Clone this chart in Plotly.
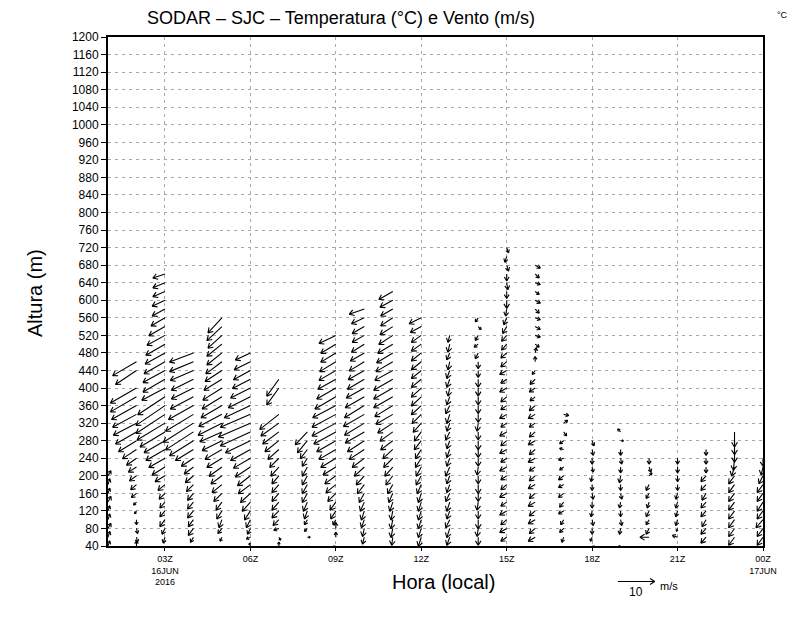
import math
import plotly.graph_objects as go

# ---------------- page / axes geometry ----------------
OFF = 8                     # the page body adds an 8 px margin around the figure
W, H = 800 - OFF, 618 - OFF
ML, MT = 108 - OFF, 37 - OFF
MR = W - (763 - OFF)
MB = H - (546 - OFF)
X0, X1 = 1, 24          # hours (1Z 16JUN .. 00Z 17JUN)
Y0, Y1 = 40, 1200       # altitude (m)
PW = W - ML - MR
PH = H - MT - MB
PX_PER_H = PW / (X1 - X0)
PX_PER_M = PH / (Y1 - Y0)
VSCALE = 3.67           # px per (m/s); reference vector = 10 m/s

# ---------------- data ----------------
level_start = 40
level_step = 20
hours = list(range(1, 25))

x_tickvals = [3, 6, 9, 12, 15, 18, 21, 24]
x_ticktext = ["03Z<br>16JUN<br>2016", "06Z", "09Z", "12Z", "15Z", "18Z", "21Z", "00Z<br>17JUN"]
y_tickvals = list(range(40, 1201, 40))

# wind components (m/s), from 40 m upward in 20 m steps; None = no data
u_01 = [0.5, 0.5, 0.8, 0.5, 0.5, 0.8, 0.5, 0.5, 0.8]
v_01 = [1.4, 1.6, 1.4, 1.6, 1.4, 1.6, 1.4, 1.6, 1.4]
u_02 = [0.0, 0.3, 0.3, 0.0, -0.5, -0.8, -1.4, -1.6, -1.9, -2.2, -2.7, -3.8, -4.9, -5.7, -6.3, -6.5, -6.8, -7.1, -7.1, None, -5.7, -6.5]
v_02 = [1.4, -1.4, -1.4, -1.4, -0.8, -0.8, -1.1, -1.4, -1.4, -1.4, -1.9, -2.5, -3.0, -3.3, -3.3, -3.5, -3.8, -4.1, -4.1, None, -3.8, -3.8]
u_03 = [-0.3, -0.5, -0.8, -1.4, -1.4, -1.4, -1.6, -1.9, -2.7, -3.5, -4.4, -5.2, -5.7, -6.8, -7.6, -7.9, -7.9, -7.4, -6.3, -6.0, -6.0, -5.7, -5.4, -5.2, -4.9, -4.4, -3.8, -3.5, -3.5, -3.3, -3.3, -3.3]
v_03 = [-1.1, -1.6, -1.6, -1.9, -1.6, -1.6, -1.6, -1.6, -1.6, -2.2, -2.5, -3.0, -3.3, -4.1, -4.6, -5.2, -5.4, -4.9, -3.3, -3.5, -3.3, -3.3, -3.0, -3.0, -2.7, -2.5, -2.2, -1.9, -1.6, -1.4, -1.4, -1.1]
u_04 = [-0.5, -0.8, -1.4, -1.4, -1.6, -1.6, -1.6, -1.9, -2.2, -2.5, -3.3, -4.9, -6.5, -7.6, -8.2, -7.6, -6.8, -6.3, -6.0, -6.0, -6.3, -6.5, -6.5]
v_04 = [-1.1, -1.4, -1.9, -1.9, -1.9, -1.9, -1.9, -1.9, -1.9, -1.9, -2.2, -3.0, -4.1, -4.9, -5.2, -4.6, -3.8, -3.3, -3.0, -3.0, -2.7, -2.7, -2.5]
u_05 = [-0.3, -0.5, -1.1, -0.8, -1.4, -1.6, -2.2, -2.7, -3.0, -3.5, -4.1, -4.6, -5.4, -6.0, -6.5, -6.3, -5.7, -5.4, -5.2, -4.9, -4.6, -4.4, -4.1, -4.1, -3.8, -4.1, -3.8]
v_05 = [-0.8, -1.1, -1.4, -2.2, -2.2, -2.2, -2.2, -2.2, -2.2, -2.5, -2.5, -2.7, -2.7, -2.7, -3.3, -3.3, -3.3, -3.3, -3.3, -3.0, -3.0, -3.3, -3.3, -3.3, -3.5, -3.8, -4.1]
u_06 = [-0.3, -1.1, -0.8, -1.1, -1.6, -2.2, -2.7, -3.3, -3.5, -4.1, -4.6, -5.4, -6.8, -8.2, -8.7, -8.2, -7.1, -6.0, -5.4, -4.9, -4.6, -4.4, -4.1]
v_06 = [0.8, -0.5, -1.6, -2.2, -2.5, -2.5, -2.5, -2.5, -2.7, -2.7, -2.7, -3.0, -3.3, -3.8, -3.8, -3.5, -3.3, -3.0, -2.7, -2.5, -2.5, -2.2, -1.9]
u_07 = [0.0, 0.5, -1.4, -1.6, -1.9, -1.9, -1.9, -1.9, -1.9, -2.2, -2.5, -3.0, -3.8, -4.4, -4.9, -5.2, None, None, -3.3, -3.3]
v_07 = [1.1, -0.8, -0.5, -1.6, -1.9, -2.2, -2.2, -2.2, -2.2, -2.5, -2.5, -2.7, -3.0, -3.3, -3.5, -4.1, None, None, -4.6, -4.6]
u_08 = [0.5, 0.8, -0.8, -0.8, -0.8, -1.1, -1.4, -1.4, -1.4, -1.4, -1.4, -1.9, -2.7, -3.3]
v_08 = [-0.5, 0.0, -0.8, -1.4, -2.2, -2.5, -2.5, -2.5, -2.5, -2.5, -2.2, -2.5, -3.3, -3.5]
u_09 = [-0.8, 0.0, 0.0, -0.8, -1.4, -1.6, -2.2, -2.7, -3.0, -3.5, -4.1, -4.6, -5.2, -6.0, -6.5, -6.5, -6.3, -5.7, -5.2, -4.9, -4.6, -4.4, -4.1, -4.1, -4.6]
v_09 = [-0.3, 1.4, 1.6, -1.4, -2.2, -2.2, -2.2, -2.2, -2.2, -2.2, -2.5, -2.7, -3.0, -3.3, -3.5, -3.5, -3.3, -3.3, -3.0, -2.7, -2.7, -2.7, -2.5, -2.5, -2.2]
u_10 = [-0.8, -0.5, -0.5, -0.8, -0.8, -1.1, -1.4, -1.9, -2.2, -2.7, -3.3, -4.1, -4.6, -5.2, -5.4, -5.7, -5.4, -5.2, -4.9, -4.6, -4.4, -4.1, -3.8, -3.5, -3.3, -3.3, -3.5, -4.1]
v_10 = [-0.5, -1.9, -2.2, -2.2, -2.5, -2.5, -2.5, -2.5, -2.5, -2.5, -2.5, -2.7, -3.0, -3.0, -3.3, -3.3, -3.3, -3.0, -2.7, -2.7, -2.5, -2.5, -2.2, -2.2, -1.9, -1.9, -1.6, -1.4]
u_11 = [-0.3, -0.3, -0.5, -0.5, -0.5, -0.8, -1.1, -1.4, -1.9, -2.2, -2.5, -2.7, -3.3, -3.5, -4.1, -4.6, -4.9, -5.2, -5.2, -5.2, -4.9, -4.6, -4.4, -4.1, -3.8, -3.5, -3.3, -3.3, -3.5, -3.8]
v_11 = [-1.9, -2.2, -2.5, -2.5, -2.5, -2.5, -2.5, -2.5, -2.5, -2.5, -2.5, -2.5, -2.5, -2.5, -2.7, -2.7, -3.0, -3.0, -3.0, -3.0, -2.7, -2.7, -2.7, -2.5, -2.5, -2.2, -2.2, -1.9, -1.9, -2.2]
u_12 = [-0.5, -0.8, -0.8, -0.8, -0.8, -0.8, -0.8, -1.1, -1.4, -1.4, -1.6, -1.6, -1.9, -1.9, -2.2, -2.5, -2.7, -2.7, -2.7, -2.7, -2.7, -2.7, -2.7, -2.7, -2.7, -3.0, -3.3]
v_12 = [-2.2, -2.5, -2.5, -2.5, -2.5, -2.5, -2.5, -2.5, -2.5, -2.5, -2.5, -2.5, -2.5, -2.5, -2.5, -2.5, -2.5, -2.5, -2.5, -2.2, -2.2, -2.2, -2.2, -1.9, -1.9, -1.6, -1.6]
u_13 = [-0.5, -0.8, -0.8, -1.1, -0.8, -0.8, -1.1, -0.8, -0.8, -1.1, -0.8, -0.8, -0.8, -1.1, -0.8, -0.8, -1.1, -0.8, -0.5, -0.8, -0.8, -0.5, -0.8, -0.5, -0.5]
v_13 = [-2.2, -2.2, -2.5, -2.2, -2.2, -2.5, -2.2, -2.2, -2.2, -2.5, -2.2, -2.2, -2.2, -2.2, -2.2, -2.5, -2.2, -2.2, -2.2, -2.2, -2.2, -2.2, -1.9, -2.2, -1.9]
u_14 = [0.0, 0.0, -0.3, 0.0, 0.0, -0.3, 0.0, 0.0, 0.0, -0.3, 0.0, 0.0, 0.0, 0.0, -0.3, 0.0, 0.0, 0.0, 0.0, 0.0, 0.0, 0.0, -0.8, -1.1, -0.8, 0.8, -0.8]
v_14 = [-2.5, -2.2, -2.2, -2.5, -2.2, -2.2, -2.2, -2.5, -2.2, -2.2, -2.2, -2.2, -2.5, -2.2, -2.2, -2.2, -2.2, -2.2, -2.2, -2.2, -1.9, -1.9, -1.6, -0.8, -1.4, -0.8, -1.1]
u_15 = [-1.4, -1.6, -1.9, -1.6, -1.9, -1.6, -1.9, -1.6, -1.6, -1.9, -1.6, -1.9, -1.6, -1.9, -1.6, -1.9, -1.6, -1.6, -1.9, -1.6, -1.9, -1.6, -1.6, -1.4, -1.4, -1.1, -0.8, -0.3, 0.0, 0.0, 0.3, 0.0, 0.5, -0.5, 0.5]
v_15 = [-1.4, -1.1, -1.1, -1.4, -1.1, -1.1, -1.1, -1.4, -1.1, -1.1, -1.1, -1.1, -1.4, -1.1, -1.1, -1.1, -1.1, -1.4, -1.1, -1.1, -1.1, -1.4, -1.4, -1.6, -1.6, -1.9, -1.9, -1.9, -2.2, -1.9, -1.9, -1.9, -1.6, -1.6, -1.4]
u_16 = [-1.4, -1.9, -1.6, -1.9, -1.6, -1.9, -1.6, -1.9, -1.6, -1.6, -1.9, -1.6, -1.9, -1.6, -1.6, -1.9, -1.6, -1.4, -1.6, -1.4, -0.8, 0.0, 0.3, 1.1, 1.4, 1.4, 1.4, 1.1, 1.4, 1.1, 1.4, 1.1, 1.4]
v_16 = [-1.4, -1.1, -1.4, -1.1, -1.4, -1.1, -1.4, -1.1, -1.4, -1.1, -1.1, -1.4, -1.1, -1.4, -1.1, -1.1, -1.4, -1.1, -1.1, -1.4, -1.1, 1.4, 1.4, -0.8, -0.5, -0.8, -0.5, -1.1, -0.8, -0.8, -0.5, -1.1, -0.8]
u_17 = [0.3, -0.5, -1.1, -0.8, -1.4, -1.1, -1.4, -1.4, -1.4, -1.1, -1.4, -1.1, -1.1, 0.8, 1.1, 1.4]
v_17 = [-1.4, -1.4, -1.1, -1.4, -0.8, -1.4, -1.1, -0.8, -1.1, -0.8, -0.5, 0.3, -0.8, -1.1, 0.8, -0.3]
u_18 = [0.8, -0.5, 0.0, 0.3, -0.3, 0.0, 0.3, 0.0, -0.3, 0.3, 0.0, 0.3, 0.5]
v_18 = [-0.3, -1.1, -1.6, -1.6, -1.6, -1.6, -1.6, -1.6, -1.6, -1.4, -1.6, -1.6, -1.4]
u_19 = [-0.5, None, -0.3, 0.3, 0.0, -0.3, 0.3, 0.0, -0.3, 0.0, 0.3, 0.0, 0.8, -0.8]
v_19 = [0.0, None, -1.6, -1.6, -1.6, -1.6, -1.6, -1.6, -1.9, -1.6, -1.6, -1.6, 0.0, 0.8]
u_20 = [None, -2.5, -0.8, -0.8, -0.8, -0.5, -0.8, -0.8, 0.8, 0.5, 0.0]
v_20 = [None, 0.0, -1.6, -1.4, -1.6, -1.6, -1.4, -1.6, 0.8, -1.4, -1.6]
u_21 = [None, -1.4, -0.3, -0.5, -0.5, -0.5, -0.5, 0.0, 0.0, 0.0, 0.0]
v_21 = [None, 0.5, -0.8, -1.6, -1.6, -1.6, -1.6, -1.6, -1.6, -1.6, -1.6]
u_22 = [-0.5, -1.4, -1.4, -1.1, -1.4, -1.4, -1.1, -1.4, -1.4, 0.0, 0.0, 0.0]
v_22 = [-0.8, -1.6, -1.6, -1.9, -1.6, -1.6, -1.9, -1.6, -1.6, -1.6, -1.6, -1.6]
u_23 = [-0.8, -1.6, -1.6, -1.6, -1.6, -1.6, -1.6, -1.6, -1.6, -0.8, -0.3, 0.0, 0.0, 0.0]
v_23 = [-1.6, -2.2, -2.2, -2.2, -2.2, -2.2, -2.2, -2.2, -2.2, -2.5, -3.3, -3.5, -3.8, -4.1]
u_24 = [-1.6, -1.6, -1.6, -1.9, -1.6, -1.6, -1.6, -1.6, -1.1, -0.5, 0.0]
v_24 = [-2.2, -2.2, -2.2, -2.2, -2.2, -2.5, -2.2, -2.2, -2.2, -2.2, -2.2]

U_COLS = [u_01, u_02, u_03, u_04, u_05, u_06, u_07, u_08, u_09, u_10, u_11, u_12,
          u_13, u_14, u_15, u_16, u_17, u_18, u_19, u_20, u_21, u_22, u_23, u_24]
V_COLS = [v_01, v_02, v_03, v_04, v_05, v_06, v_07, v_08, v_09, v_10, v_11, v_12,
          v_13, v_14, v_15, v_16, v_17, v_18, v_19, v_20, v_21, v_22, v_23, v_24]

# ---------------- build arrows (tail at grid point) ----------------
HEAD_LEN = 5.5
HEAD_ANG = math.radians(32)

xs, ys = [], []
for h, ucol, vcol in zip(hours, U_COLS, V_COLS):
    for k, (u, v) in enumerate(zip(ucol, vcol)):
        if u is None or v is None:
            continue
        a = level_start + k * level_step
        dxp, dyp = u * VSCALE, v * VSCALE
        L = math.hypot(dxp, dyp)
        if L < 0.5:
            continue
        hx, hy = h + dxp / PX_PER_H, a + dyp / PX_PER_M
        bx, by = -dxp / L, -dyp / L
        hl = min(HEAD_LEN, 0.65 * L)
        barbs = []
        for s in (1, -1):
            c, sn = math.cos(s * HEAD_ANG), math.sin(s * HEAD_ANG)
            rx, ry = bx * c - by * sn, bx * sn + by * c
            barbs.append((hx + rx * hl / PX_PER_H, hy + ry * hl / PX_PER_M))
        xs += [h, hx, barbs[0][0], None, hx, barbs[1][0], None]
        ys += [a, hy, barbs[0][1], None, hy, barbs[1][1], None]

fig = go.Figure()
fig.add_trace(go.Scatter(x=xs, y=ys, mode="lines",
                         line=dict(color="black", width=1.1),
                         hoverinfo="skip", showlegend=False))

FONT = "Liberation Sans"

def pxx(px):
    """page x pixel -> paper coordinate"""
    return (px - OFF - ML) / PW

def pxy(py):
    """page y pixel -> paper coordinate"""
    return (H - MB - (py - OFF)) / PH

annotations = [
    dict(text="SODAR – SJC – Temperatura (°C) e Vento (m/s)", x=pxx(341), y=pxy(18),
         font=dict(size=18, family=FONT, color="black")),
    dict(text="°C", x=pxx(790), y=pxy(15), xanchor="right",
         font=dict(size=9, family=FONT, color="black")),
    dict(text="Altura (m)", x=pxx(35), y=pxy(293), textangle=-90,
         font=dict(size=20, family=FONT, color="black")),
    dict(text="Hora (local)", x=pxx(443), y=pxy(582),
         font=dict(size=20, family=FONT, color="black")),
    dict(text="10", x=pxx(636), y=pxy(592), font=dict(size=12, family=FONT, color="black")),
    dict(text="m/s", x=pxx(669), y=pxy(586), font=dict(size=11, family=FONT, color="black")),
]
for an in annotations:
    an.setdefault("xanchor", "center")
    an.update(xref="paper", yref="paper", showarrow=False, yanchor="middle")

# reference vector (10 m/s)
ref_x0, ref_y = 618, 581.5
ref_x1 = ref_x0 + 10 * VSCALE
shapes = [dict(type="line", xref="paper", yref="paper",
               x0=pxx(ref_x0), y0=pxy(ref_y), x1=pxx(ref_x1), y1=pxy(ref_y),
               line=dict(color="black", width=1.1))]
for s in (1, -1):
    shapes.append(dict(type="line", xref="paper", yref="paper",
                       x0=pxx(ref_x1), y0=pxy(ref_y),
                       x1=pxx(ref_x1 - HEAD_LEN * math.cos(HEAD_ANG)),
                       y1=pxy(ref_y + s * HEAD_LEN * math.sin(HEAD_ANG)),
                       line=dict(color="black", width=1.1)))

fig.update_layout(
    width=W, height=H, autosize=False,
    margin=dict(l=ML, r=MR, t=MT, b=MB, pad=0),
    paper_bgcolor="white", plot_bgcolor="white",
    annotations=annotations, shapes=shapes,
    font=dict(family=FONT, color="black"),
)
fig.update_xaxes(range=[X0, X1], tickmode="array", tickvals=x_tickvals, ticktext=x_ticktext,
                 ticks="outside", ticklen=3, tickcolor="black",
                 tickfont=dict(size=9, family=FONT, color="black"),
                 showgrid=True, gridcolor="#a8a8a8", gridwidth=1, griddash="3px,4px",
                 showline=True, linecolor="black", linewidth=2, mirror=True, zeroline=False)
fig.update_yaxes(range=[Y0, Y1], tickmode="array", tickvals=y_tickvals,
                 ticktext=[str(t) for t in y_tickvals],
                 ticks="outside", ticklen=5, tickcolor="black",
                 tickfont=dict(size=12, family=FONT, color="black"),
                 showgrid=True, gridcolor="#a8a8a8", gridwidth=1, griddash="3px,4px",
                 showline=True, linecolor="black", linewidth=2, mirror=True, zeroline=False)

fig.write_html("out.html")
